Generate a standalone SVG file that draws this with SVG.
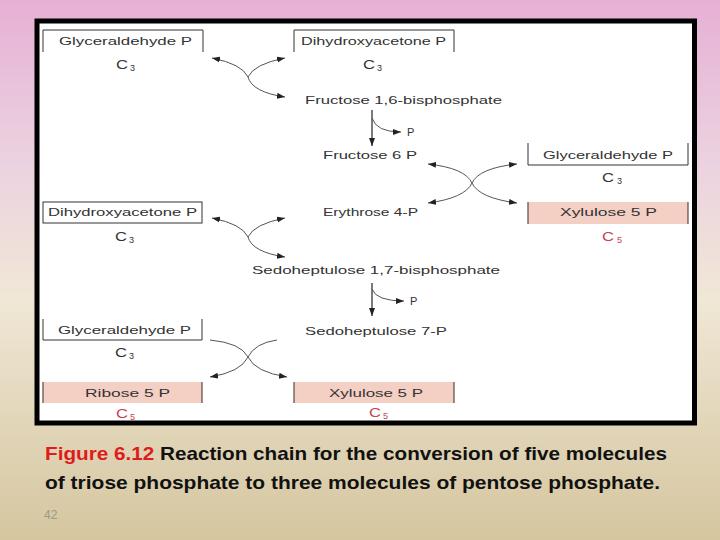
<svg xmlns="http://www.w3.org/2000/svg" width="720" height="540" viewBox="0 0 720 540">
<defs>
<linearGradient id="bg" x1="0" y1="0" x2="0" y2="1">
<stop offset="0" stop-color="#e6b0d5"/>
<stop offset="0.3" stop-color="#ecd2e0"/>
<stop offset="0.55" stop-color="#f0e7d6"/>
<stop offset="1" stop-color="#d5c69f"/>
</linearGradient>
<marker id="ah" markerUnits="userSpaceOnUse" markerWidth="9" markerHeight="7" refX="8" refY="3" orient="auto">
<path d="M0,0 L8,3 L0,6 z" fill="#222"/>
</marker>
<style>
.t{font-family:"Liberation Sans",Arial,sans-serif;font-size:11px;fill:#333}
.c{font-family:"Liberation Sans",Arial,sans-serif;font-size:12px;fill:#333}
.s{font-family:"Liberation Sans",Arial,sans-serif;font-size:9px;fill:#333}
.r{fill:#c8424f}
.box{fill:none;stroke:#333;stroke-width:1}
.pink{fill:#f3cfc4}
.side{fill:none;stroke:#5a4a45;stroke-width:1.2}
.cv{fill:none;stroke:#555;stroke-width:1;marker-end:url(#ah)}
.cvn{fill:none;stroke:#555;stroke-width:1}
.vl{fill:none;stroke:#222;stroke-width:1.2;marker-end:url(#ah)}
.cap{font-family:"Liberation Sans",Arial,sans-serif;font-size:19px;font-weight:bold;fill:#111}
</style>
</defs>
<rect width="720" height="540" fill="url(#bg)"/>
<rect x="37" y="21" width="657.5" height="402" fill="#fff" stroke="#000" stroke-width="5"/>

<g id="gap1"><path class="box" d="M43,52 V30 H203 V52"/><text class="t" x="59" y="45" textLength="133" lengthAdjust="spacingAndGlyphs">Glyceraldehyde P</text><text class="c" x="116" y="69" textLength="12" lengthAdjust="spacingAndGlyphs">C</text><text class="s" x="130" y="71">3</text></g>
<g id="dhap1"><path class="box" d="M294,52 V30 H454 V52"/><text class="t" x="301" y="45" textLength="145" lengthAdjust="spacingAndGlyphs">Dihydroxyacetone P</text><text class="c" x="363" y="69" textLength="12" lengthAdjust="spacingAndGlyphs">C</text><text class="s" x="377" y="71">3</text></g>
<g id="fbp"><text class="t" x="305" y="104" textLength="197" lengthAdjust="spacingAndGlyphs">Fructose 1,6-bisphosphate</text></g>
<g id="p1"><text class="t" x="407" y="136">P</text></g>
<g id="f6p"><text class="t" x="323" y="159" textLength="94" lengthAdjust="spacingAndGlyphs">Fructose 6 P</text></g>
<g id="gap2"><path class="box" d="M528,143 V165 H688 V143"/><text class="t" x="543" y="159" textLength="130" lengthAdjust="spacingAndGlyphs">Glyceraldehyde P</text><text class="c" x="602" y="182" textLength="12" lengthAdjust="spacingAndGlyphs">C</text><text class="s" x="617" y="184">3</text></g>
<g id="dhap2"><rect class="box" x="43" y="202" width="159" height="21"/><text class="t" x="48" y="216" textLength="149" lengthAdjust="spacingAndGlyphs">Dihydroxyacetone P</text><text class="c" x="115" y="241" textLength="12" lengthAdjust="spacingAndGlyphs">C</text><text class="s" x="129" y="243">3</text></g>
<g id="e4p"><text class="t" x="323" y="216" textLength="95" lengthAdjust="spacingAndGlyphs">Erythrose 4-P</text></g>
<g id="xu5p1"><rect class="pink" x="528" y="202" width="160" height="22"/><path class="side" d="M528,202 V224 M688,202 V224"/><text class="t" x="560" y="216" textLength="97" lengthAdjust="spacingAndGlyphs">Xylulose 5 P</text><text class="c r" x="602" y="241" textLength="12" lengthAdjust="spacingAndGlyphs">C</text><text class="s r" x="617" y="243">5</text></g>
<g id="sbp"><text class="t" x="252" y="274" textLength="248" lengthAdjust="spacingAndGlyphs">Sedoheptulose 1,7-bisphosphate</text></g>
<g id="p2"><text class="t" x="410" y="305">P</text></g>
<g id="gap3"><path class="box" d="M43,319 V340 H202 V319"/><text class="t" x="58" y="334" textLength="133" lengthAdjust="spacingAndGlyphs">Glyceraldehyde P</text><text class="c" x="115" y="357" textLength="12" lengthAdjust="spacingAndGlyphs">C</text><text class="s" x="129" y="359">3</text></g>
<g id="s7p"><text class="t" x="305" y="335" textLength="142" lengthAdjust="spacingAndGlyphs">Sedoheptulose 7-P</text></g>
<g id="r5p"><rect class="pink" x="43" y="382" width="159" height="21"/><path class="side" d="M43,382 V403 M202,382 V403"/><text class="t" x="85" y="397" textLength="85" lengthAdjust="spacingAndGlyphs">Ribose 5 P</text><text class="c r" x="116" y="418" textLength="12" lengthAdjust="spacingAndGlyphs">C</text><text class="s r" x="130" y="420">5</text></g>
<g id="xu5p2"><rect class="pink" x="294" y="382" width="160" height="21"/><path class="side" d="M294,382 V403 M454,382 V403"/><text class="t" x="329" y="397" textLength="94" lengthAdjust="spacingAndGlyphs">Xylulose 5 P</text><text class="c r" x="369" y="417" textLength="12" lengthAdjust="spacingAndGlyphs">C</text><text class="s r" x="383" y="419">5</text></g>

<g id="connectors">
<path class="cv" d="M248,77 Q242,64 212,58"/>
<path class="cv" d="M248,77 Q254,64 285,58"/>
<path class="cv" d="M248,77 Q252,92 285,97"/>
<path class="vl" d="M372,110 V146"/>
<path class="cv" d="M372,118 Q376,132 401,132"/>
<path class="cv" d="M472,183 Q465,168 428,164"/>
<path class="cv" d="M472,183 Q479,168 517,164"/>
<path class="cv" d="M472,183 Q465,198 428,203"/>
<path class="cv" d="M472,183 Q479,198 517,203"/>
<path class="cv" d="M248,237 Q242,224 212,218"/>
<path class="cv" d="M248,237 Q254,224 285,218"/>
<path class="cv" d="M248,237 Q252,252 285,257"/>
<path class="vl" d="M372,283 V316"/>
<path class="cv" d="M372,289 Q376,301 404,301"/>
<path class="cvn" d="M248,357 Q241,343 210,340"/>
<path class="cvn" d="M248,357 Q255,343 277,340"/>
<path class="cv" d="M248,357 Q241,372 210,377"/>
<path class="cv" d="M248,357 Q255,372 287,377"/>
</g>

<text class="cap" x="45" y="460" textLength="622" lengthAdjust="spacingAndGlyphs"><tspan fill="#e01b1b">Figure 6.12</tspan> Reaction chain for the conversion of five molecules</text>
<text class="cap" x="45" y="489" textLength="615" lengthAdjust="spacingAndGlyphs">of triose phosphate to three molecules of pentose phosphate.</text>
<text x="44" y="519" font-family="Liberation Sans, Arial, sans-serif" font-size="12" fill="#9a9a8a">42</text>
</svg>
